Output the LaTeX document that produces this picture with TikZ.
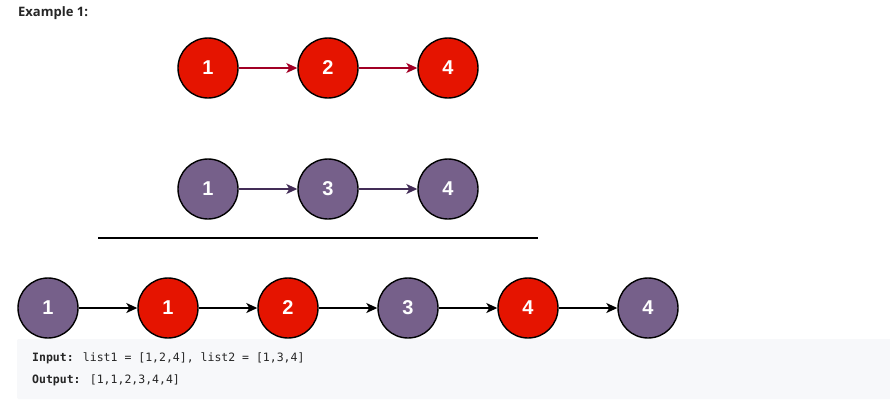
\documentclass[tikz,border=0pt]{standalone}
\usepackage{fontspec}
\setmainfont{Liberation Sans}
\newfontfamily\titlefont{Open Sans}
\newfontfamily\codefont{DejaVu Sans Mono}
\usetikzlibrary{arrows.meta}
\definecolor{nred}{HTML}{E51400}
\definecolor{npurple}{HTML}{76608A}
\definecolor{ared}{HTML}{A20025}
\definecolor{apurple}{HTML}{432D57}
\definecolor{codebg}{HTML}{F7F8FA}
\definecolor{codetext}{HTML}{262626}
\tikzset{
  lnode/.style={circle, draw=black, line width=1.4pt, minimum size=60pt, inner sep=0pt,
    text=white, font=\bfseries\fontsize{20}{20}\selectfont},
  rednode/.style={lnode, fill=nred},
  purnode/.style={lnode, fill=npurple},
  link/.style={line width=1.3pt, -{Stealth[length=11pt,width=10pt,inset=3pt]}},
  codeline/.style={anchor=west, inner sep=0pt, text=codetext, font=\codefont\fontsize{11.5}{12}\selectfont},
}
\begin{document}
\begin{tikzpicture}[x=1pt,y=-1pt]
\useasboundingbox (0,0) rectangle (890,416);
\fill[white] (0,0) rectangle (890,416);
\node[anchor=west, inner sep=0pt, font=\titlefont\bfseries\fontsize{13}{14}\selectfont, text=codetext] (title) at (18,13) {Example 1:};
% list 1
\node[rednode] (a1) at (208,68) {1};
\node[rednode] (a2) at (328,68) {2};
\node[rednode] (a3) at (448,68) {4};
\draw[link, ared] (a1) -- (a2);
\draw[link, ared] (a2) -- (a3);
% list 2
\node[purnode] (b1) at (208,189) {1};
\node[purnode] (b2) at (328,189) {3};
\node[purnode] (b3) at (448,189) {4};
\draw[link, apurple] (b1) -- (b2);
\draw[link, apurple] (b2) -- (b3);
% separator
\coordinate (s1) at (98,238);
\coordinate (s2) at (538,238);
\draw[line width=1.5pt] (s1) -- (s2);
% merged
\node[purnode] (c1) at (48,308) {1};
\node[rednode] (c2) at (168,308) {1};
\node[rednode] (c3) at (288,308) {2};
\node[purnode] (c4) at (408,308) {3};
\node[rednode] (c5) at (528,308) {4};
\node[purnode] (c6) at (648,308) {4};
\foreach \i/\j in {c1/c2,c2/c3,c3/c4,c4/c5,c5/c6}
  \draw[link, black] (\i) -- (\j);
% code box
\fill[codebg, rounded corners=2pt] (17,339) rectangle (895,399);
\node[codeline] (inp) at (32,358) {\textbf{Input:} list1 = [1,2,4], list2 = [1,3,4]};
\node[codeline] (outp) at (32,380) {\textbf{Output:} [1,1,2,3,4,4]};
\end{tikzpicture}
\end{document}
